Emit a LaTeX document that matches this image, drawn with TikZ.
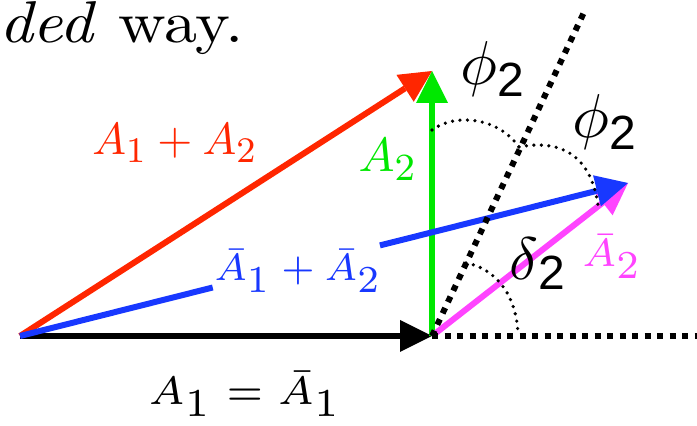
\documentclass[tikz,border=0pt]{standalone}
\usepackage{fontspec}
\usepackage{graphicx}
\usetikzlibrary{arrows.meta,calc}
\newfontfamily\hvfont{Liberation Sans}
\DeclareMathSizes{10}{10}{8}{6}
\DeclareMathSizes{7}{7}{7}{5}
\DeclareMathSizes{6}{6}{6}{5}
\definecolor{vred}{RGB}{255,38,0}
\definecolor{vgreen}{RGB}{0,232,0}
\definecolor{vblue}{RGB}{24,56,255}
\definecolor{vmag}{RGB}{255,68,255}
\newcommand\mlab[3]{\scalebox{#1}{\fontsize{#2}{#2}\selectfont$#3$}}
\newcommand\sanstwo{{\hvfont\fontsize{48}{48}\selectfont 2}}
\begin{document}
\begin{tikzpicture}[x=1pt,y=1pt,
  vec/.style={line width=6pt,-{Triangle[length=32pt,width=32pt,line width=0pt]}},
  seg/.style={line width=6pt},
  thickdots/.style={line width=6pt,dash pattern=on 6pt off 6.5pt},
  thindots/.style={line width=3.6pt,dash pattern=on 0pt off 7.5pt,line cap=round},
  lab/.style={inner sep=0pt,anchor=base}]
\useasboundingbox (0,0) rectangle (697,426);
% points
\coordinate (O) at (20,90);
\coordinate (P) at (432,90);
\coordinate (T) at (432,355);
\coordinate (B) at (628,243);
\coordinate (D) at (586,418);
\coordinate (H) at (697,90);
\coordinate (b1) at ($(O)!0.317!(B)$);
\coordinate (b2) at ($(O)!0.592!(B)$);
\coordinate (a1s) at (432,296);
\coordinate (a1m) at (519,279);
\coordinate (a1e) at (598,221);
\coordinate (ds) at (466,163);
\coordinate (de) at (518,91);
% vectors
\draw[vec,black] (O) -- (P);
\draw[vec,vred] (O) -- (T);
\draw[vec,vgreen] (P) -- (T);
\draw[vec,vmag] (P) -- (B);
\draw[seg,vblue] (O) -- (b1);
\draw[vec,vblue] (b2) -- (B);
% dotted guides
\draw[thickdots] (P) -- (D);
\draw[thickdots] (P) -- (H);
\draw[thindots] (a1s) .. controls (455,313) and (498,309) .. (a1m);
\draw[thindots] (a1m) .. controls (555,286) and (590,276) .. (a1e);
\draw[thindots] (ds) .. controls (495,158) and (517,131) .. (de);
% labels
\node[inner sep=0pt,anchor=base west] (title) at (-1,383) {\scalebox{6.6}[5.9]{\fontsize{10}{12}\selectfont\textit{ded} way.}};
\node[lab,text=vred] (lsum) at (175,271) {\mlab{4.5}{10}{A_1+A_2}};
\node[lab,text=vgreen] (la2) at (388,254) {\mlab{4.8}{10}{A_2}};
\node[lab,text=vblue] (lbsum) at (298,145) {\mlab{5.44}{7}{\bar A_1+\bar A_2}};
\node[lab,text=vmag] (lba2) at (612,159) {\mlab{5.65}{7}{\bar A_2}};
\node[lab] (la1) at (245,21) {\mlab{6.6}{6}{A_1=\bar A_1}};
\node[lab] (phi1) at (492,329) {\scalebox{6.2}{\raisebox{0.194em}{$\phi$}}\sanstwo};
\node[lab] (phi2) at (604,276) {\scalebox{6.2}{\raisebox{0.194em}{$\phi$}}\sanstwo};
\node[lab] (del) at (537,136) {\scalebox{6}{\raisebox{0.17em}{$\delta$}}\sanstwo};
\end{tikzpicture}
\end{document}
